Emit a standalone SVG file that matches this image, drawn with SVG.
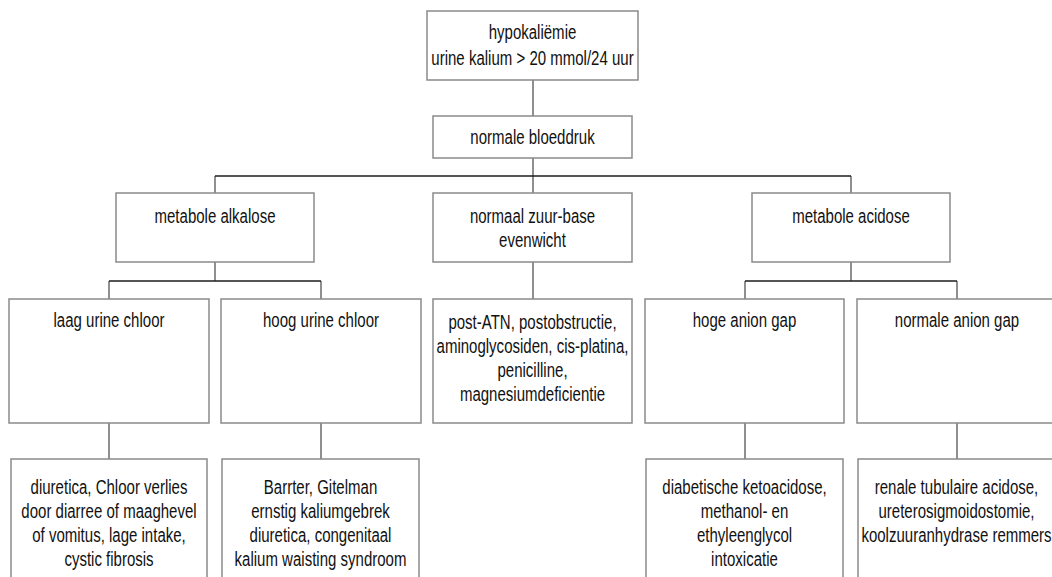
<svg xmlns="http://www.w3.org/2000/svg" width="1052" height="577" viewBox="0 0 1052 577">
<style>
.box{fill:#fff;stroke:#8a8a8a;stroke-width:1.5}
.t{font-family:"Liberation Sans",Arial,sans-serif;font-size:21px;fill:#111;text-anchor:middle}
.h{stroke:#1e1e1e;stroke-width:1.3;fill:none}
.v{stroke:#555;stroke-width:1.3;fill:none}
</style>
<rect width="1052" height="577" fill="#fff"/>
<g id="connectors">
<path class="v" d="M533 80V116M533 158V193M215 176V193M851 176V193M215 262V281M109 281V299M321 281V299M533 262V299M851 262V281M745 281V299M957 281V299M109 423V459M321 423V459M745 423V459M957 423V459"/>
<path class="h" d="M215 176H851M109 281H321M745 281H957"/>
</g>
<g id="n-hypokaliemie">
<rect class="box" x="427" y="11" width="211" height="69"/>
<text class="t" transform="translate(532.5,39) scale(0.715,1)">hypokaliëmie</text>
<text class="t" transform="translate(532.5,65) scale(0.715,1)">urine kalium &gt; 20 mmol/24 uur</text>
</g>
<g id="n-bloeddruk">
<rect class="box" x="433" y="116" width="199" height="42"/>
<text class="t" transform="translate(532.5,144) scale(0.715,1)">normale bloeddruk</text>
</g>
<g id="n-alkalose">
<rect class="box" x="116" y="193" width="198" height="69"/>
<text class="t" transform="translate(215,223) scale(0.715,1)">metabole alkalose</text>
</g>
<g id="n-zuurbase">
<rect class="box" x="433" y="193" width="199" height="69"/>
<text class="t" transform="translate(532.5,223) scale(0.715,1)">normaal zuur-base</text>
<text class="t" transform="translate(532.5,247) scale(0.715,1)">evenwicht</text>
</g>
<g id="n-acidose">
<rect class="box" x="752" y="193" width="198" height="69"/>
<text class="t" transform="translate(851,223) scale(0.715,1)">metabole acidose</text>
</g>
<g id="n-laag">
<rect class="box" x="9" y="299" width="200" height="124"/>
<text class="t" transform="translate(109,327) scale(0.715,1)">laag urine chloor</text>
</g>
<g id="n-hoog">
<rect class="box" x="221" y="299" width="200" height="124"/>
<text class="t" transform="translate(321,327) scale(0.715,1)">hoog urine chloor</text>
</g>
<g id="n-postatn">
<rect class="box" x="433" y="299" width="199" height="124"/>
<text class="t" transform="translate(532.5,329) scale(0.715,1)">post-ATN, postobstructie,</text>
<text class="t" transform="translate(532.5,353) scale(0.715,1)">aminoglycosiden, cis-platina,</text>
<text class="t" transform="translate(532.5,377) scale(0.715,1)">penicilline,</text>
<text class="t" transform="translate(532.5,401) scale(0.715,1)">magnesiumdeficientie</text>
</g>
<g id="n-hoge">
<rect class="box" x="645" y="299" width="199" height="124"/>
<text class="t" transform="translate(744.5,327) scale(0.715,1)">hoge anion gap</text>
</g>
<g id="n-normale">
<rect class="box" x="857" y="299" width="200" height="124"/>
<text class="t" transform="translate(957,327) scale(0.715,1)">normale anion gap</text>
</g>
<g id="n-laag-oorzaken">
<rect class="box" x="11" y="459" width="196" height="140"/>
<text class="t" transform="translate(109,494) scale(0.715,1)">diuretica, Chloor verlies</text>
<text class="t" transform="translate(109,518) scale(0.715,1)">door diarree of maaghevel</text>
<text class="t" transform="translate(109,542) scale(0.715,1)">of vomitus, lage intake,</text>
<text class="t" transform="translate(109,566) scale(0.715,1)">cystic fibrosis</text>
</g>
<g id="n-hoog-oorzaken">
<rect class="box" x="222" y="459" width="197" height="140"/>
<text class="t" transform="translate(320.5,494) scale(0.715,1)">Barrter, Gitelman</text>
<text class="t" transform="translate(320.5,518) scale(0.715,1)">ernstig kaliumgebrek</text>
<text class="t" transform="translate(320.5,542) scale(0.715,1)">diuretica, congenitaal</text>
<text class="t" transform="translate(320.5,566) scale(0.715,1)">kalium waisting syndroom</text>
</g>
<g id="n-hoge-oorzaken">
<rect class="box" x="646" y="459" width="197" height="140"/>
<text class="t" transform="translate(744.5,494) scale(0.715,1)">diabetische ketoacidose,</text>
<text class="t" transform="translate(744.5,518) scale(0.715,1)">methanol- en</text>
<text class="t" transform="translate(744.5,542) scale(0.715,1)">ethyleenglycol</text>
<text class="t" transform="translate(744.5,566) scale(0.715,1)">intoxicatie</text>
</g>
<g id="n-normale-oorzaken">
<rect class="box" x="858" y="459" width="197" height="140"/>
<text class="t" transform="translate(956.5,494) scale(0.715,1)">renale tubulaire acidose,</text>
<text class="t" transform="translate(956.5,518) scale(0.715,1)">ureterosigmoidostomie,</text>
<text class="t" transform="translate(956.5,542) scale(0.715,1)">koolzuuranhydrase remmers</text>
</g>
</svg>
